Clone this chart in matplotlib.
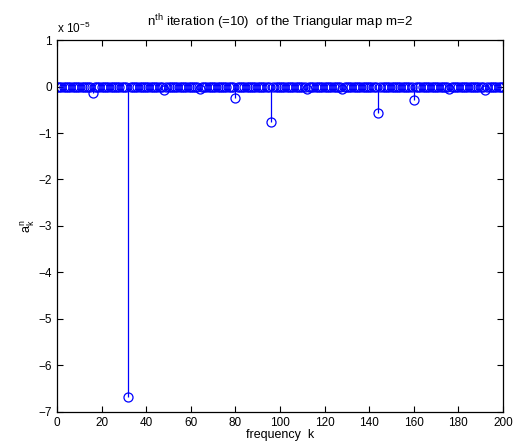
import numpy as np
import matplotlib
matplotlib.use("Agg")
import matplotlib.pyplot as plt

plt.rcParams['font.family'] = ['Liberation Sans', 'DejaVu Sans']
plt.rcParams['mathtext.fontset'] = 'custom'
plt.rcParams['mathtext.rm'] = 'Liberation Sans'

# frequencies k = 0..200, coefficients in units of 1e-5
k = np.arange(0, 201)
peak_k = [16, 32, 48, 64, 80, 96, 112, 128, 144, 160, 176, 192]
peak_val = [-0.13, -6.68, -0.08, -0.05, -0.25, -0.76, -0.06, -0.05, -0.57, -0.30, -0.06, -0.08]

a = np.zeros(len(k))
for kk, v in zip(peak_k, peak_val):
    a[kk] = v

fig = plt.figure(figsize=(5.15, 4.48), dpi=100)
ax = fig.add_axes([0.1107, 0.0804, 0.866, 0.8303])

markerline, stemlines, baseline = ax.stem(k, a, linefmt='b-', markerfmt='bo', basefmt=' ')
markerline.set_markerfacecolor('none')
markerline.set_markersize(6.5)
markerline.set_markeredgewidth(0.9)
stemlines.set_linewidth(0.9)

ax.set_xlim(0, 200)
ax.set_ylim(-7, 1)
ax.set_xticks(np.arange(0, 201, 20))
ax.set_yticks(np.arange(-7, 2, 1))
ax.tick_params(direction='in', top=True, right=True, labelsize=8.5, length=4)
for s in ax.spines.values():
    s.set_linewidth(0.9)

ax.set_xlabel('frequency  k', fontsize=9, labelpad=0)
ax.set_ylabel(r'$\mathregular{a_k^n}$', fontsize=9, labelpad=1)
ax.set_title(r'$\mathregular{n^{th}}$ iteration (=10)  of the Triangular map m=2', fontsize=9.5, pad=10)
ax.text(0.0, 1.012, r'x $\mathregular{10^{-5}}$', transform=ax.transAxes, fontsize=8.5, ha='left', va='bottom')

fig.savefig('out.png', dpi=100)
